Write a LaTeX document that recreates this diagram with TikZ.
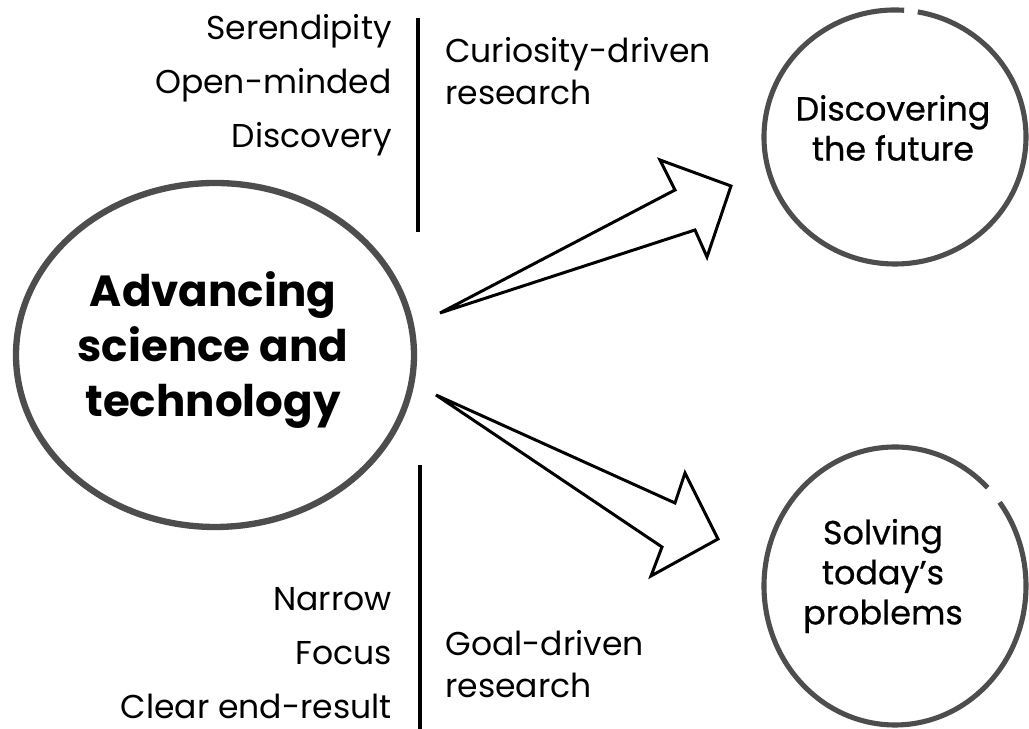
\documentclass[tikz,border=0pt]{standalone}
\usepackage{fontspec}
\setmainfont{Poppins}
\newfontfamily\ringfont{Poppins}[FakeBold=0.6]
\usetikzlibrary{shapes.geometric}
\definecolor{brush}{HTML}{4D4D4D}

\begin{document}
\begin{tikzpicture}[x=0.02cm, y=0.02cm,
		word/.style={font=\fontsize{18.8}{24}\selectfont, inner sep=0pt},
		ringtext/.style={font=\ringfont\fontsize{19}{22.8}\selectfont, align=center, inner sep=0pt},
		arrowline/.style={line width=1.7pt, line join=miter}]
		\newcommand\sketchring[6]{ %% argument 1: centre, 2: x radius, 3: y radius, 4: start, 5: end, 6: width
			\draw[brush, line width=#6] (#1) ++(#4:#2 and #3) arc[start angle=#4, end angle=#5, x radius=#2, y radius=#3];
		}

		\useasboundingbox (0,0) rectangle (1029,729);

		%% the rings
		\node[ellipse, minimum width=400, minimum height=346] (sci) at (215,374) {};
		\node[font=\fontsize{24.8}{31.3}\selectfont\bfseries, align=center] (scitext) at (213,379) {Advancing\\science and\\technology};
		\sketchring{sci.center}{199}{172}{0}{360}{3.6pt}

		\node[ellipse, minimum width=262, minimum height=254] (future) at (895,592) {};
		\node[ringtext] (futuretext) at (893,601) {Discovering\\the future};
		\sketchring{future.center}{131}{127}{86}{440}{2.9pt}

		\node[ellipse, minimum width=262, minimum height=278] (today) at (895,143) {};
		\node[ringtext] (todaytext) at (883,153) {Solving\\today’s\\problems};
		\sketchring{today.center}{131}{139}{45}{397}{2.9pt}

		%% bars
		\coordinate (topbarA) at (418,711);
		\coordinate (topbarB) at (418,497);
		\coordinate (lowbarA) at (420,264);
		\coordinate (lowbarB) at (420,0);
		\draw[line width=2.8pt] (topbarA) -- (topbarB);
		\draw[line width=2.8pt] (lowbarA) -- (lowbarB);

		%% words by the bars
		\node[word, anchor=base east] (seren) at (392,689) {Serendipity};
		\node[word, anchor=base east] (open) at (392,635) {Open-minded};
		\node[word, anchor=base east] (disc) at (392,581) {Discovery};
		\node[word, anchor=base east] (narrow) at (392,118) {Narrow};
		\node[word, anchor=base east] (focus) at (392,64) {Focus};
		\node[word, anchor=base east] (clear) at (392,10) {Clear end-result};

		\node[word, anchor=base west] (curious) at (445,666) {Curiosity-driven};
		\node[word, anchor=base west] (curres) at (445,624) {research};
		\node[word, anchor=base west] (goal) at (445,73) {Goal-driven};
		\node[word, anchor=base west] (goalres) at (445,31) {research};

		%% hollow arrows
		\coordinate (upTail) at (440,416);
		\coordinate (upTip) at (731,543);
		\draw[arrowline] (upTail) -- (675,539) -- (660,569) -- (upTip) -- (707,472) -- (695,499) -- cycle;

		\coordinate (downTail) at (436,334);
		\coordinate (downTip) at (718,190);
		\draw[arrowline] (downTail) -- (675,226) -- (685,256) -- (downTip) -- (651,153) -- (662,182) -- cycle;
	\end{tikzpicture}
\end{document}
